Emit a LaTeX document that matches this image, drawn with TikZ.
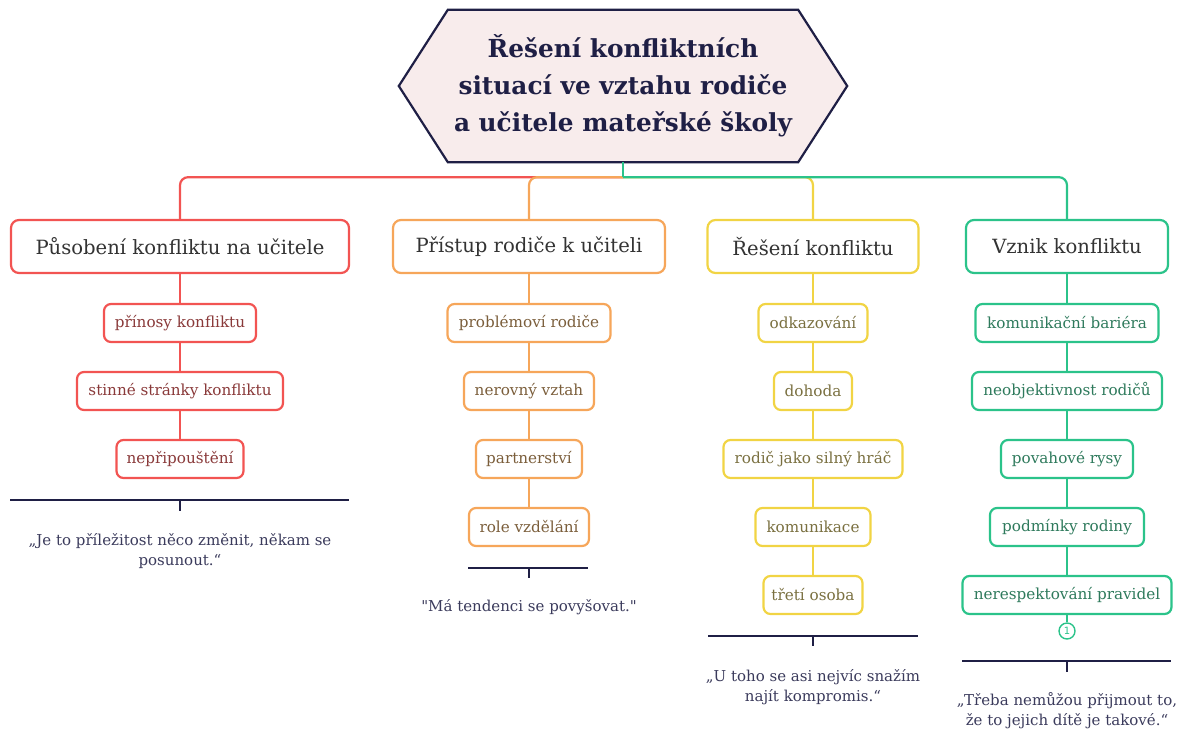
\documentclass[tikz,border=0pt]{standalone}
\usepackage{fontspec}
\setmainfont{DejaVu Serif}
\newfontfamily\rawserif{DejaVu Serif}
\newfontfamily\numfont{DejaVu Sans}
\usetikzlibrary{calc}
\definecolor{cred}{HTML}{F25452}
\definecolor{corange}{HTML}{F6A65A}
\definecolor{cyellow}{HTML}{F1D444}
\definecolor{cgreen}{HTML}{2BC38A}
\definecolor{tred}{HTML}{8A3A3A}
\definecolor{torange}{HTML}{7B5E3B}
\definecolor{tyellow}{HTML}{7A7040}
\definecolor{tgreen}{HTML}{2E7A5C}
\definecolor{navy}{HTML}{1F1F45}
\definecolor{quotec}{HTML}{3B3B5C}
\definecolor{titlefill}{HTML}{F8ECEC}
\definecolor{cattext}{HTML}{333333}
\begin{document}
\begin{tikzpicture}[x=1pt,y=-1pt,
  catbox/.style={draw, line width=2.2pt, rounded corners=8pt, fill=white, minimum height=53pt, inner sep=0pt, font=\fontsize{19.6}{22}\selectfont, text=cattext},
  subbox/.style={draw, line width=2.2pt, rounded corners=7pt, fill=white, minimum height=38pt, inner sep=0pt, font=\fontsize{15.2}{18}\selectfont},
  link/.style={line width=2.2pt},
  brace/.style={draw=navy, line width=2.2pt},
  quote/.style={align=center, text=quotec, font=\fontsize{15}{20}\selectfont, inner sep=0pt},
]
\useasboundingbox (0,0) rectangle (1185,731);

% title
\node[minimum width=350pt, minimum height=152pt, inner sep=0pt] (title) at (623,86) {};
\draw[navy, line width=2.2pt, fill=titlefill, line join=miter]
  (title.north west) -- (title.north east) -- ($(title.east)+(49,0)$) -- (title.south east)
  -- (title.south west) -- ($(title.west)+(-49,0)$) -- cycle;
\node[align=center, text=navy, font=\bfseries\fontsize{24.8}{37}\selectfont] (titletext) at (title.center)
  {Řešení konfliktních\\situací ve vztahu rodiče\\a učitele mateřské školy};

% categories
\node[catbox, draw=cred, minimum width=338pt] (c1) at (180,246.5) {Působení konfliktu na učitele};
\node[catbox, draw=corange, minimum width=272pt] (c2) at (529,246.5) {Přístup rodiče k učiteli};
\node[catbox, draw=cyellow, minimum width=211pt] (c3) at (813,246.5) {Řešení konfliktu};
\node[catbox, draw=cgreen, minimum width=202pt] (c4) at (1067,246.5) {Vznik konfliktu};

\coordinate (j) at ($(title.south)+(0,15)$);
\draw[link, cred, rounded corners=8pt] (j) -| (c1.north);
\draw[link, corange, rounded corners=8pt] (j) -| (c2.north);
\draw[link, cyellow, rounded corners=8pt] (j) -| (c3.north);
\draw[link, cgreen, rounded corners=8pt] (j) -| (c4.north);
\draw[link, cgreen] (title.south) -- (j);

% red column
\node[subbox, draw=cred, text=tred, minimum width=152pt] (r1) at (180,323) {přínosy konfliktu};
\node[subbox, draw=cred, text=tred, minimum width=206pt] (r2) at (180,391) {stinné stránky konfliktu};
\node[subbox, draw=cred, text=tred, minimum width=127pt] (r3) at (180,459) {nepřipouštění};
\draw[link, cred] (c1.south) -- (r1.north) (r1.south) -- (r2.north) (r2.south) -- (r3.north);

% orange column
\node[subbox, draw=corange, text=torange, minimum width=163pt] (o1) at (529,323) {problémoví rodiče};
\node[subbox, draw=corange, text=torange, minimum width=130pt] (o2) at (529,391) {nerovný vztah};
\node[subbox, draw=corange, text=torange, minimum width=106pt] (o3) at (529,459) {partnerství};
\node[subbox, draw=corange, text=torange, minimum width=120pt] (o4) at (529,527) {role vzdělání};
\draw[link, corange] (c2.south) -- (o1.north) (o1.south) -- (o2.north) (o2.south) -- (o3.north) (o3.south) -- (o4.north);

% yellow column
\node[subbox, draw=cyellow, text=tyellow, minimum width=109pt] (y1) at (813,323) {odkazování};
\node[subbox, draw=cyellow, text=tyellow, minimum width=78pt] (y2) at (813,391) {dohoda};
\node[subbox, draw=cyellow, text=tyellow, minimum width=179pt] (y3) at (813,459) {rodič jako silný hráč};
\node[subbox, draw=cyellow, text=tyellow, minimum width=115pt] (y4) at (813,527) {komunikace};
\node[subbox, draw=cyellow, text=tyellow, minimum width=99pt] (y5) at (813,595) {třetí osoba};
\draw[link, cyellow] (c3.south) -- (y1.north) (y1.south) -- (y2.north) (y2.south) -- (y3.north) (y3.south) -- (y4.north) (y4.south) -- (y5.north);

% green column
\node[subbox, draw=cgreen, text=tgreen, minimum width=183pt] (g1) at (1067,323) {komunikační bariéra};
\node[subbox, draw=cgreen, text=tgreen, minimum width=190pt] (g2) at (1067,391) {neobjektivnost rodičů};
\node[subbox, draw=cgreen, text=tgreen, minimum width=132pt] (g3) at (1067,459) {povahové rysy};
\node[subbox, draw=cgreen, text=tgreen, minimum width=154pt] (g4) at (1067,527) {podmínky rodiny};
\node[subbox, draw=cgreen, text=tgreen, minimum width=209pt] (g5) at (1067,595) {nerespektování pravidel};
\node[circle, draw=cgreen, line width=1.4pt, fill=white, minimum size=16pt, inner sep=0pt, text=cgreen,
      font=\numfont\fontsize{10}{10}\selectfont] (n1) at (1067,631) {1};
\draw[link, cgreen, line width=1.4pt] (g5.south) -- (n1.north);
\draw[link, cgreen] (c4.south) -- (g1.north) (g1.south) -- (g2.north) (g2.south) -- (g3.north) (g3.south) -- (g4.north) (g4.south) -- (g5.north);

% summary brackets
\coordinate (b1l) at (10,500); \coordinate (b1r) at (349,500); \coordinate (b1m) at (180,500);
\draw[brace] (b1l) -- (b1r) (b1m) -- ++(0,11);
\coordinate (b2l) at (468,568); \coordinate (b2r) at (588,568); \coordinate (b2m) at (529,568);
\draw[brace] (b2l) -- (b2r) (b2m) -- ++(0,10);
\coordinate (b3l) at (708,636); \coordinate (b3r) at (918,636); \coordinate (b3m) at (813,636);
\draw[brace] (b3l) -- (b3r) (b3m) -- ++(0,10);
\coordinate (b4l) at (962,661); \coordinate (b4r) at (1171,661); \coordinate (b4m) at (1067,661);
\draw[brace] (b4l) -- (b4r) (b4m) -- ++(0,11);

\node[quote] (q1) at (180,551) {„Je to příležitost něco změnit, někam se\\posunout.“};
\node[quote] (q2) at (529,607) {\rawserif "Má tendenci se povyšovat."};
\node[quote] (q3) at (813,687) {„U toho se asi nejvíc snažím\\najít kompromis.“};
\node[quote] (q4) at (1067,711) {„Třeba nemůžou přijmout to,\\že to jejich dítě je takové.“};
\end{tikzpicture}
\end{document}
